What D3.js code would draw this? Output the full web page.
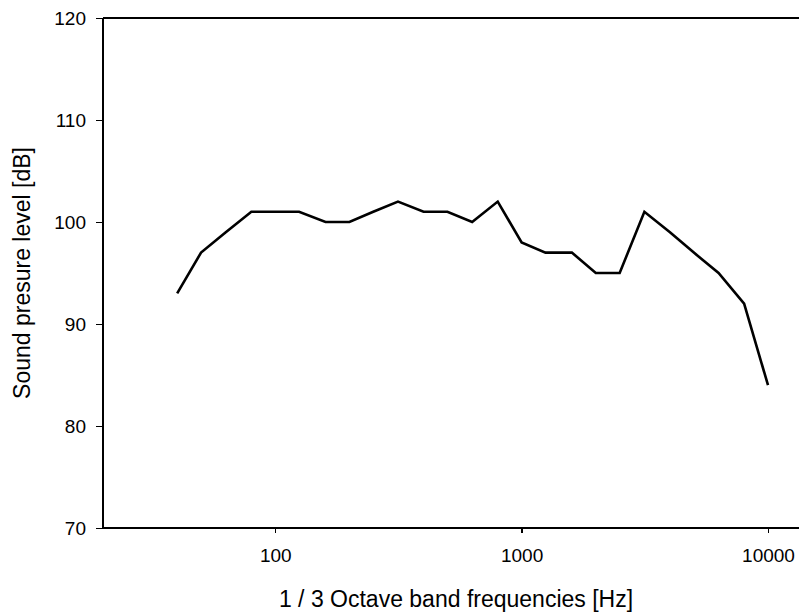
<!DOCTYPE html>
<html>
<head>
<meta charset="utf-8">
<script src="https://cdn.jsdelivr.net/npm/d3@7"></script>
<style>
  body { margin: 0; background: #fff; }
  svg { display: block; font-family: Arial, "Liberation Sans", sans-serif; }
</style>
</head>
<body>
<div id="chart"></div>
<script>
// 1/3 octave band centre frequencies [Hz]
var frequencies = [40, 50, 63, 80, 100, 125, 160, 200, 250, 315, 400, 500, 630, 800,
                   1000, 1250, 1600, 2000, 2500, 3150, 4000, 5000, 6300, 8000, 10000];
// sound pressure level [dB]
var levels = [93, 97, 99, 101, 101, 101, 100, 100, 101, 102, 101, 101, 100, 102,
              98, 97, 97, 95, 95, 101, 99, 97, 95, 92, 84];
var xTicks = [100, 1000, 10000];
var yTicks = [70, 80, 90, 100, 110, 120];

var width = 799, height = 614;
var margin = {top: 18, right: 0, bottom: 86, left: 103};

var svg = d3.select("#chart").append("svg")
    .attr("width", width)
    .attr("height", height);

// log scale: 20 Hz at the left axis, 10000 Hz at x = 768
var x = d3.scaleLog()
    .domain([20, 10000])
    .range([margin.left, 768]);

var y = d3.scaleLinear()
    .domain([70, 120])
    .range([height - margin.bottom, margin.top]);

var xRight = width;

var data = frequencies.map(function(f, i) { return {f: f, v: levels[i]}; });

// top frame line runs to the right edge
svg.append("line")
    .attr("x1", margin.left).attr("x2", xRight)
    .attr("y1", y(120)).attr("y2", y(120))
    .attr("stroke", "#000")
    .attr("stroke-width", 1.3)
    .attr("shape-rendering", "crispEdges");

// x axis
var xAxis = d3.axisBottom(x)
    .tickValues(xTicks)
    .tickFormat(d3.format("d"))
    .tickSize(5)
    .tickPadding(16);

var gx = svg.append("g")
    .attr("transform", "translate(0," + y(70) + ")")
    .call(xAxis);
gx.select(".domain").remove();
gx.append("line")
    .attr("x1", margin.left).attr("x2", xRight)
    .attr("stroke", "#000").attr("stroke-width", 1.3)
    .attr("shape-rendering", "crispEdges");
gx.selectAll(".tick line").attr("stroke-width", 1.3).attr("shape-rendering", "crispEdges");
gx.selectAll("text")
    .style("font-size", "19px")
    .attr("fill", "#000");

// y axis
var yAxis = d3.axisLeft(y)
    .tickValues(yTicks)
    .tickSize(7)
    .tickPadding(10);

var gy = svg.append("g")
    .attr("transform", "translate(" + margin.left + ",0)")
    .call(yAxis);
gy.select(".domain").remove();
gy.append("line")
    .attr("y1", y(70)).attr("y2", y(120))
    .attr("stroke", "#000").attr("stroke-width", 1.3)
    .attr("shape-rendering", "crispEdges");
gy.selectAll(".tick line").attr("stroke-width", 1.3).attr("shape-rendering", "crispEdges");
gy.selectAll("text")
    .style("font-size", "19px")
    .attr("fill", "#000");

// the spectrum line
var line = d3.line()
    .x(function(d) { return x(d.f); })
    .y(function(d) { return y(d.v); });

svg.append("path")
    .datum(data)
    .attr("d", line)
    .attr("fill", "none")
    .attr("stroke", "#000")
    .attr("stroke-width", 2.6)
    .attr("stroke-linejoin", "miter");

// axis titles
svg.append("text")
    .attr("x", 456)
    .attr("y", 607)
    .attr("text-anchor", "middle")
    .style("font-size", "23px")
    .text("1 / 3 Octave band frequencies [Hz]");

svg.append("text")
    .attr("transform", "translate(30," + ((y(70) + y(120)) / 2) + ") rotate(-90)")
    .attr("text-anchor", "middle")
    .style("font-size", "23px")
    .text("Sound presure level [dB]");
</script>
</body>
</html>
